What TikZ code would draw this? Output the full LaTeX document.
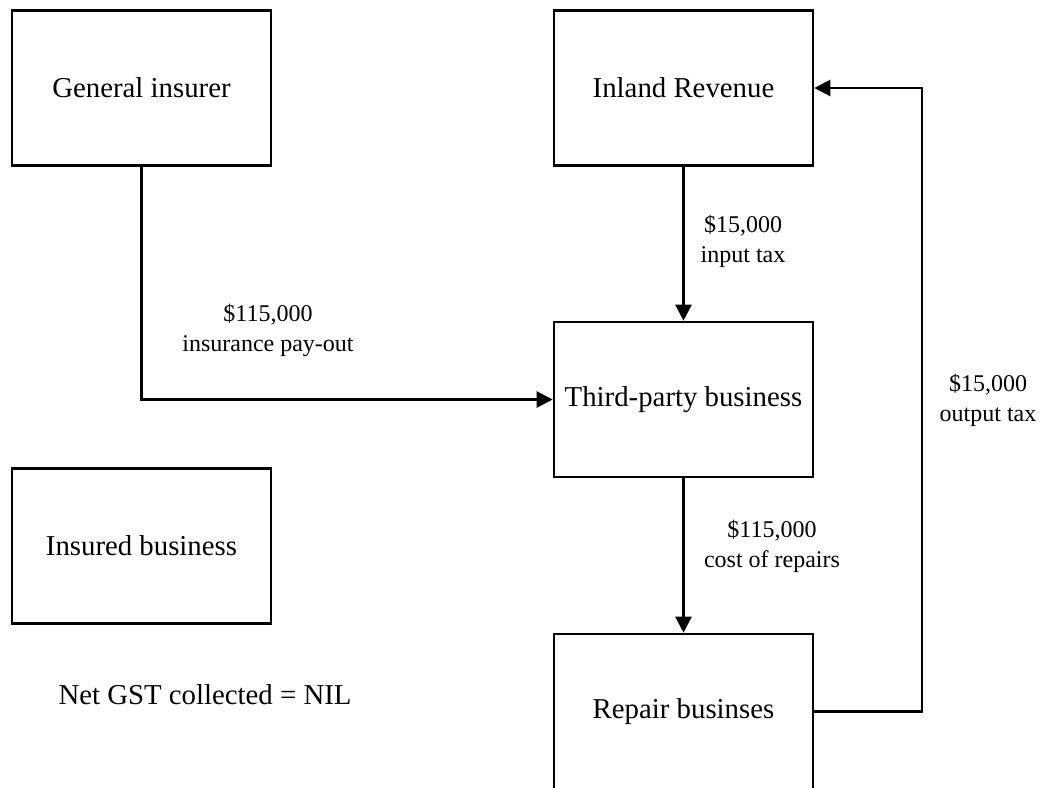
\documentclass[tikz,border=0pt]{standalone}
\usepackage{fontspec}
\setmainfont{Liberation Serif}
\usetikzlibrary{arrows.meta}
\tikzset{
  party/.style={draw, line width=2.6pt, minimum width=259pt, minimum height=155pt,
    inner sep=0pt, font=\fontsize{28.8}{34}\selectfont},
  flow/.style={-{Triangle[length=16pt,width=16pt]}, line width=2.3pt},
  amount/.style={align=center, font=\fontsize{24}{30}\selectfont}
}
\begin{document}
\begin{tikzpicture}[x=1pt, y=-1pt]
    \useasboundingbox (0,0) rectangle (1043,787);
    % Boxes
    \node [party] (insurer) at (141.5,88) {General insurer};
    \node [party] (revenue) at (683.5,88) {Inland Revenue};
    \node [party] (third) at (683.5,399.5) {Third-party business};
    \node [party] (insured) at (141.5,546) {Insured business};
    \node [party] (repair) at (683.5,711.5) {Repair businses};
    % Flows
    \coordinate (turn) at (922,711.5);
    \draw [flow] (insurer.south) |- (third.west);
    \draw [flow] (revenue) -- (third);
    \draw [flow] (third) -- (repair);
    \draw [flow] (repair.east) -- (turn) |- (revenue.east);
    % Labels
    \node [amount] (payout) at (268,330) {\$115,000\\insurance pay-out};
    \node [amount] (input) at (743,241) {\$15,000\\input tax};
    \node [amount] (repairs) at (772,546) {\$115,000\\cost of repairs};
    \node [amount] (output) at (988,400) {\$15,000\\output tax};
    \node [font=\fontsize{28.8}{34}\selectfont] (net) at (205,695) {Net GST collected = NIL};
\end{tikzpicture}
\end{document}
